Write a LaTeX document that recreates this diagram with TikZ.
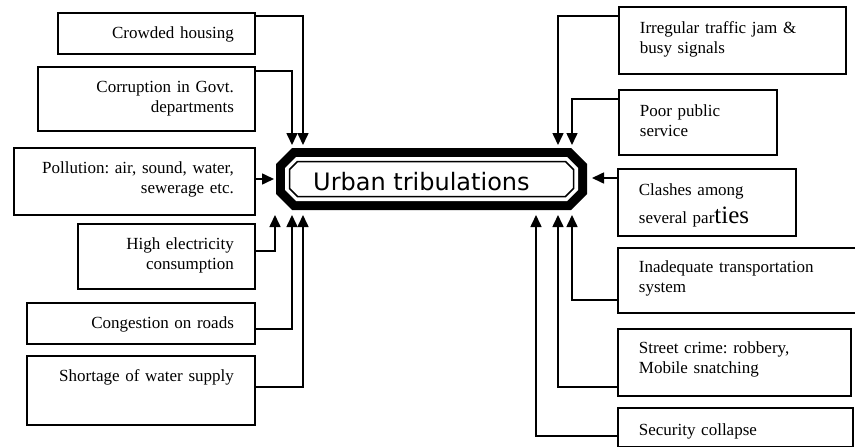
\documentclass[tikz,border=0pt]{standalone}
\usepackage{fontspec}
\setmainfont{Liberation Serif}
\newfontfamily\hubfont{DejaVu Sans}
\usetikzlibrary{arrows.meta}
\frenchspacing

\tikzset{
  box/.style={draw, line width=1.8pt, anchor=north west, inner xsep=21pt,
    inner ysep=0pt, text height=26pt, font=\fontsize{17}{20}\selectfont},
  lbox/.style={box, align=right},
  rbox/.style={box, align=left},
  conn/.style={line width=1.6pt, -{Triangle[length=12pt,width=11pt]}},
}

\begin{document}
\begin{tikzpicture}[x=1pt, y=-1pt]
\useasboundingbox (0,0) rectangle (855,447);

% central octagon: heavy black frame with a thin inner outline
\fill[black] (292,148) -- (571,148) -- (587,164) -- (587,194) -- (571,210)
  -- (292,210) -- (276,194) -- (276,164) -- cycle;
\fill[white] (296,157) -- (567,157) -- (578,168) -- (578,190) -- (567,201)
  -- (296,201) -- (285,190) -- (285,168) -- cycle;
\draw[line width=1.5pt] (297.5,161.5) -- (565.5,161.5) -- (573.5,169.5)
  -- (573.5,188.5) -- (565.5,196.5) -- (297.5,196.5) -- (289.5,188.5)
  -- (289.5,169.5) -- cycle;
\node[font=\hubfont\fontsize{24}{28}\selectfont, anchor=base west, inner sep=0pt]
  (hub) at (313,190) {Urban tribulations};

% arrow tips around the hub
\coordinate (tl1) at (303,145);
\coordinate (tl2) at (292,145);
\coordinate (ml)  at (274,179);
\coordinate (bl1) at (275,215);
\coordinate (bl2) at (292,215);
\coordinate (bl3) at (303,215);
\coordinate (tr1) at (558,145);
\coordinate (tr2) at (572,145);
\coordinate (mr)  at (592,178);
\coordinate (br1) at (572,215);
\coordinate (br2) at (558,215);
\coordinate (br3) at (536,215);

% causes on the left
\node[lbox, text width=155pt, text depth=15pt] (b1) at (57,12) {Crowded housing};
\node[lbox, text width=175pt, text depth=38pt] (b2) at (37,66) {Corruption in Govt.\\departments};
\node[lbox, text width=199pt, text depth=41pt] (b3) at (13,147) {Pollution: air, sound, water,\\sewerage etc.};
\node[lbox, text width=135pt, text depth=39pt] (b4) at (77,223) {High electricity\\consumption};
\node[lbox, text width=186pt, text depth=15pt] (b5) at (26,302) {Congestion on roads};
\node[lbox, text width=186pt, text depth=43pt] (b6) at (26,355) {Shortage of water supply};

% causes on the right
\node[rbox, text width=185pt, text height=27pt, text depth=40pt] (c1) at (618,6) {Irregular traffic jam \&\\busy signals};
\node[rbox, text width=116pt, text height=27pt, text depth=38pt] (c2) at (618,89) {Poor public\\service};
\node[rbox, text width=136pt, text height=27pt, text depth=40pt] (c3) at (617,168)
  {Clashes among\\[6pt]several par{\fontsize{25}{20}\selectfont ties}};
\node[rbox, text width=199pt, text height=25pt, text depth=40pt] (c4) at (617,247) {Inadequate transportation\\system};
\node[rbox, text width=191pt, text height=25pt, text depth=42pt] (c5) at (617,328) {Street crime: robbery,\\Mobile snatching};
\node[rbox, text width=193pt, text height=28pt, text depth=11pt] (c6) at (617,407) {Security collapse};

% connectors
\draw[conn] (b1.east |- 0,16)  -| (tl1);
\draw[conn] (b2.east |- 0,71)  -| (tl2);
\draw[conn] (b3.east |- 0,179) -- (ml);
\draw[conn] (b4.east |- 0,251) -| (bl1);
\draw[conn] (b5.east |- 0,329) -| (bl2);
\draw[conn] (b6.east |- 0,387) -| (bl3);
\draw[conn] (c1.west |- 0,16)  -| (tr1);
\draw[conn] (c2.west |- 0,99)  -| (tr2);
\draw[conn] (c3.west |- 0,178) -- (mr);
\draw[conn] (c4.west |- 0,300) -| (br1);
\draw[conn] (c5.west |- 0,387) -| (br2);
\draw[conn] (c6.west |- 0,436) -| (br3);
\end{tikzpicture}
\end{document}
